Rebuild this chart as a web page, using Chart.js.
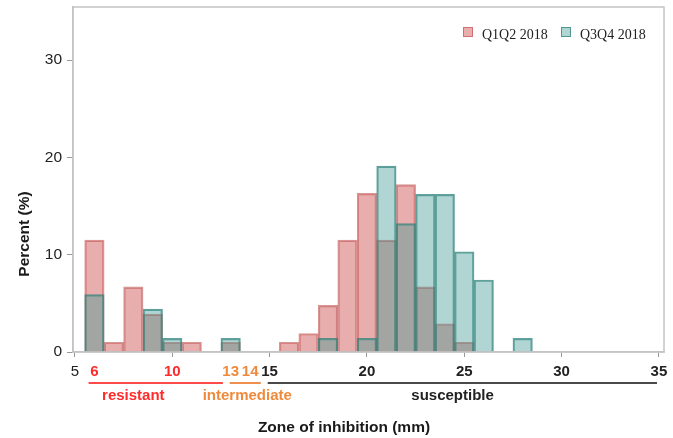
<!DOCTYPE html>
<html>
<head>
<meta charset="utf-8">
<script src="https://cdn.jsdelivr.net/npm/chart.js@4.4.1/dist/chart.umd.min.js"></script>
<style>
  html, body { margin: 0; padding: 0; background: #fff; }
</style>
</head>
<body>
<canvas id="zoneChart" width="673" height="438"></canvas>
<script>
// ----- Data -----

// bin centres, zone of inhibition (mm)
const zoneBins = [6, 7, 8, 9, 10, 11, 12, 13, 14, 15, 16, 17, 18, 19, 20, 21, 22, 23, 24, 25, 26, 27, 28];

// percent of isolates per bin
const q1q2Percent = [11.5, 1.0, 6.7, 3.9, 1.0, 1.0, null, 1.0, null, null, 1.0, 1.9, 4.8, 11.5, 16.3, 11.5, 17.2, 6.7, 2.9, 1.0, null, null, null];
const q3q4Percent = [5.9, null, null, 4.4, 1.4, null, null, 1.4, null, null, null, null, 1.4, null, 1.4, 19.1, 13.2, 16.2, 16.2, 10.3, 7.4, null, 1.4];

const seriesNames = ["Q1Q2 2018", "Q3Q4 2018"];

// axis ticks
const xTickValues = [5, 6, 10, 13, 14, 15, 20, 25, 30, 35];
const yTickValues = [0, 10, 20, 30];

// interpretive ranges under the x axis (in mm)
const rangeNames = ["resistant", "intermediate", "susceptible"];
const rangeFrom = [5.7, 12.95, 14.9];
const rangeTo = [12.6, 14.55, 34.9];
const rangeLabelAt = [8.0, 13.85, 24.4];

// ----- Styles -----

const SANS = "'Liberation Sans', Arial, Helvetica, sans-serif";
const SERIF = "'Liberation Serif', 'Times New Roman', serif";

const redFill = "rgba(200, 60, 60, 0.42)";
const redEdge = "rgba(185, 60, 60, 0.55)";
const tealFill = "rgba(70, 155, 148, 0.42)";
const tealEdge = "rgba(45, 130, 122, 0.75)";

const rangeColors = ["#ff2a2a", "#ef8a3c", "#222222"];
const rangeLineColors = ["#ff4a4a", "#f09050", "#4a4a4a"];

/**
 * Colour for the x tick labels: the breakpoints are coloured.
 */
function xTickColor(value) {
  if (value === 6 || value === 10) return rangeColors[0];
  if (value === 13 || value === 14) return rangeColors[1];
  return "#222";
}

const tickValue = (c) => (c && c.tick ? c.tick.value : null);

// no extra label padding around the plot area
function clearScalePadding(scale) {
  scale.paddingTop = 0;
  scale.paddingBottom = 0;
  scale.paddingLeft = 0;
  scale.paddingRight = 0;
}

// ----- Extra drawing: frame, ranges, titles, legend -----

const decorPlugin = {
  id: "decor",
  afterDraw(chart) {
    const { ctx, chartArea: area, scales } = chart;
    const x = scales.x;

    ctx.save();

    // plot frame
    ctx.strokeStyle = "#c4c4c4";
    ctx.lineWidth = 1.5;
    ctx.strokeRect(area.left, area.top, area.right - area.left, area.bottom - area.top);

    // range lines + labels
    ctx.font = `bold 15px ${SANS}`;
    ctx.textAlign = "center";
    ctx.textBaseline = "middle";
    rangeNames.forEach((name, i) => {
      ctx.strokeStyle = rangeLineColors[i];
      ctx.lineWidth = 2;
      ctx.beginPath();
      ctx.moveTo(x.getPixelForValue(rangeFrom[i]), 383);
      ctx.lineTo(x.getPixelForValue(rangeTo[i]), 383);
      ctx.stroke();
      ctx.fillStyle = rangeColors[i];
      ctx.fillText(name, x.getPixelForValue(rangeLabelAt[i]), 396);
    });

    // axis titles
    ctx.fillStyle = "#1a1a1a";
    ctx.font = `bold 15.5px ${SANS}`;
    ctx.fillText("Zone of inhibition (mm)", 344, 428);
    ctx.save();
    ctx.translate(25, 234);
    ctx.rotate(-Math.PI / 2);
    ctx.fillText("Percent (%)", 0, 0);
    ctx.restore();

    // legend
    const legendItems = [
      { x: 463, fill: redFill, edge: redEdge },
      { x: 561, fill: tealFill, edge: tealEdge },
    ];
    ctx.font = `14px ${SERIF}`;
    ctx.textAlign = "left";
    ctx.textBaseline = "alphabetic";
    legendItems.forEach((item, i) => {
      ctx.fillStyle = item.fill;
      ctx.fillRect(item.x, 27, 10, 10);
      ctx.strokeStyle = item.edge;
      ctx.lineWidth = 1;
      ctx.strokeRect(item.x + 0.5, 27.5, 9, 9);
      ctx.fillStyle = "#222";
      ctx.fillText(seriesNames[i], item.x + 19, 39);
    });

    ctx.restore();
  },
};

// ----- Chart -----

document.addEventListener("DOMContentLoaded", () => {
  const ctx = document.getElementById("zoneChart").getContext("2d");

  const toPoints = (values) => zoneBins.map((bin, i) => ({ x: bin, y: values[i] }));

  window.zoneChart = new Chart(ctx, {
    type: "bar",
    data: {
      datasets: [
        {
          label: seriesNames[0],
          data: toPoints(q1q2Percent),
          backgroundColor: redFill,
          borderColor: redEdge,
          borderWidth: 1.5,
          order: 2,
        },
        {
          label: seriesNames[1],
          data: toPoints(q3q4Percent),
          backgroundColor: tealFill,
          borderColor: tealEdge,
          borderWidth: 1.5,
          order: 1,
        },
      ],
    },
    options: {
      responsive: false,
      animation: false,
      grouped: false,
      barPercentage: 1,
      categoryPercentage: 1,
      layout: { padding: { top: 7, right: 9, left: 0, bottom: 0 } },
      plugins: {
        legend: { display: false },
        tooltip: { enabled: false },
      },
      scales: {
        x: {
          type: "linear",
          min: 4.9,
          max: 35.26,
          offset: false,
          afterFit: (scale) => { scale.height = 86; clearScalePadding(scale); },
          afterBuildTicks: (scale) => { scale.ticks = xTickValues.map(v => ({ value: v })); },
          border: { color: "#c4c4c4", width: 1.5 },
          grid: {
            offset: false,
            drawOnChartArea: false,
            tickLength: 5,
            tickColor: (c) => [6, 13, 14].includes(tickValue(c)) ? "rgba(0,0,0,0)" : "#999",
          },
          ticks: {
            autoSkip: false,
            maxRotation: 0,
            padding: 6,
            color: (c) => xTickColor(tickValue(c)),
            font: (c) => ({ family: SANS, size: 15, weight: tickValue(c) === 5 ? "normal" : "bold" }),
            callback: (v) => String(v),
          },
        },
        y: {
          min: 0,
          max: 35.46,
          afterFit: (scale) => { scale.width = 73; clearScalePadding(scale); },
          afterBuildTicks: (scale) => { scale.ticks = yTickValues.map(v => ({ value: v })); },
          border: { color: "#c4c4c4", width: 1.5 },
          grid: {
            drawOnChartArea: false,
            tickLength: 6,
            tickColor: "#999",
          },
          ticks: {
            padding: 5,
            color: "#222",
            font: { family: SANS, size: 15.5 },
          },
        },
      },
    },
    plugins: [decorPlugin],
  });
});
</script>
</body>
</html>
